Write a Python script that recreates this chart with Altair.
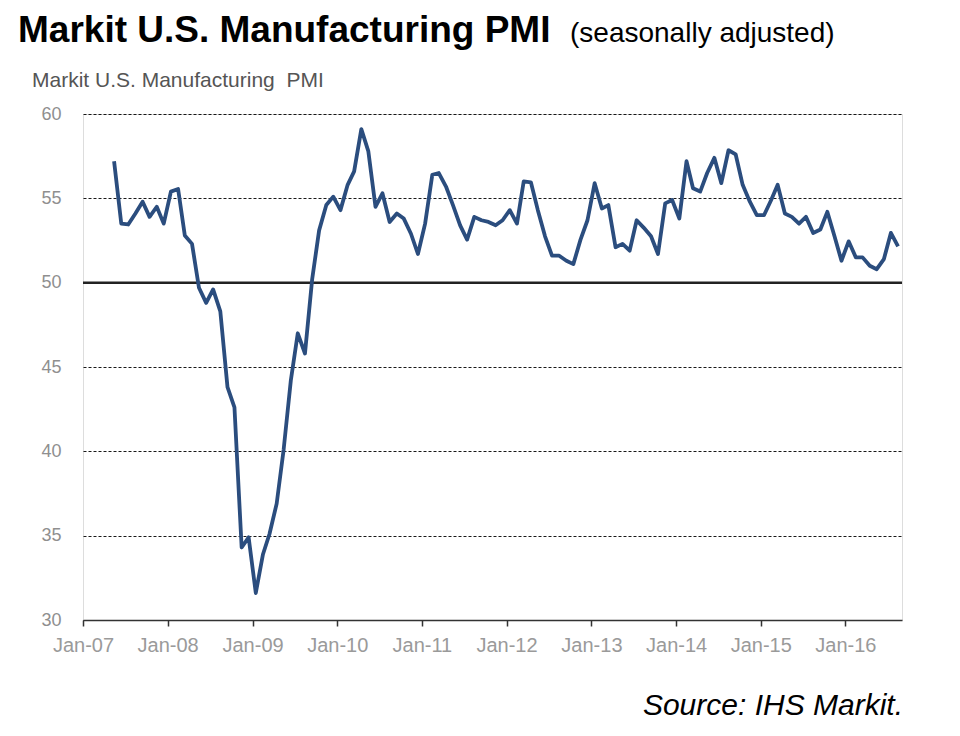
import altair as alt
import pandas as pd

# ---- data (monthly, May 2007 .. Aug 2016) ----
first_month = "2007-05"
pmi_values = [
    57.2, 53.5, 53.45, 54.1, 54.8, 53.9, 54.5, 53.5,              # May-Dec 2007
    55.4, 55.55, 52.8, 52.3, 49.7, 48.8, 49.6, 48.3, 43.8, 42.6, 34.3, 34.9,  # 2008
    31.6, 33.9, 35.1, 36.9, 40.1, 44.2, 47.0, 45.8, 50.2, 53.1, 54.6, 55.1,   # 2009
    54.3, 55.8, 56.6, 59.1, 57.8, 54.5, 55.3, 53.6, 54.1, 53.8, 52.9, 51.7,   # 2010
    53.5, 56.4, 56.5, 55.7, 54.6, 53.4, 52.55, 53.9, 53.7, 53.6, 53.4, 53.7,  # 2011
    54.3, 53.5, 56.0, 55.95, 54.3, 52.75, 51.6, 51.6, 51.3, 51.1, 52.55, 53.7,  # 2012
    55.9, 54.4, 54.6, 52.1, 52.3, 51.9, 53.7, 53.25, 52.75, 51.7, 54.7, 54.9,   # 2013
    53.8, 57.2, 55.6, 55.4, 56.5, 57.4, 55.9, 57.85, 57.6, 55.8, 54.8, 54.0,    # 2014
    54.0, 54.9, 55.8, 54.1, 53.9, 53.5, 53.9, 52.95, 53.15, 54.2, 52.75, 51.3,  # 2015
    52.45, 51.5, 51.5, 51.0, 50.8, 51.4, 52.95, 52.15,                          # Jan-Aug 2016
]
y_ticks = [30, 35, 40, 45, 50, 55, 60]
x_tick_years = list(range(2007, 2017))
ref_level = [50]

title_main = "Markit U.S. Manufacturing PMI"
title_note = "(seasonally adjusted)"
chart_label = "Markit U.S. Manufacturing\u00a0 PMI"
source_text = "Source: IHS Markit."

# points are plotted at mid-month
dates = pd.date_range(first_month, periods=len(pmi_values), freq="MS") + pd.Timedelta(days=14)
df = pd.DataFrame({"date": dates.strftime("%Y-%m-%dT00:00:00"), "pmi": pmi_values})

FONT = "Liberation Sans"

x_enc = alt.X(
    "date:T",
    scale=alt.Scale(domain=[alt.DateTime(year=2007, month=1, date=1),
                            alt.DateTime(year=2016, month=9, date=1)]),
    axis=alt.Axis(
        values=[alt.DateTime(year=y, month=1, date=1) for y in x_tick_years],
        format="%b-%y", title=None, grid=False, labelOverlap=False, labelFlush=False,
        domainColor="#333333", domainWidth=1.5,
        tickColor="#333333", tickSize=6, tickWidth=1.5,
        labelColor="#9a9a9a", labelFontSize=20, labelFont=FONT, labelPadding=9,
    ),
)
y_enc = alt.Y(
    "pmi:Q",
    scale=alt.Scale(domain=[30, 60], nice=False, zero=False),
    axis=alt.Axis(
        values=y_ticks, title=None, domain=False, ticks=False,
        grid=True, gridColor="#000000", gridDash=[3, 2], gridWidth=1, gridOpacity=0.9,
        labelColor="#8f8f8f", labelFontSize=18, labelFont=FONT, labelPadding=22,
    ),
)

line = alt.Chart(df).mark_line(color="#2b4d7e", strokeWidth=3.8, strokeJoin="round").encode(
    x=x_enc, y=y_enc
)

rule50 = alt.Chart(pd.DataFrame({"v": ref_level})).mark_rule(color="#222222", strokeWidth=2.5).encode(
    y=alt.Y("v:Q", scale=alt.Scale(domain=[30, 60], nice=False, zero=False))
)


def label(text, x, y, size, **kw):
    return alt.Chart(pd.DataFrame({"t": [text]})).mark_text(
        font=FONT, fontSize=size, baseline="alphabetic", **kw
    ).encode(text="t:N", x=alt.value(x), y=alt.value(y))


t1 = label(title_main, -65, -72, 37, align="left", fontWeight="bold", color="#000000")
t2 = label(title_note, 487, -72, 28, align="left", color="#000000")
t3 = label(chart_label, -51, -27, 21, align="left", color="#555555")
t4 = label(source_text, 820, 601, 30, align="right", fontStyle="italic", color="#000000")

chart = alt.layer(rule50, line, t1, t2, t3, t4).properties(
    width=819, height=506, autosize="none",
    padding={"left": 75, "top": 106, "right": 40, "bottom": 100},
).configure_view(stroke=None).configure(background="white")

chart.save("out.html", embed_options={"renderer": "svg", "actions": False})
